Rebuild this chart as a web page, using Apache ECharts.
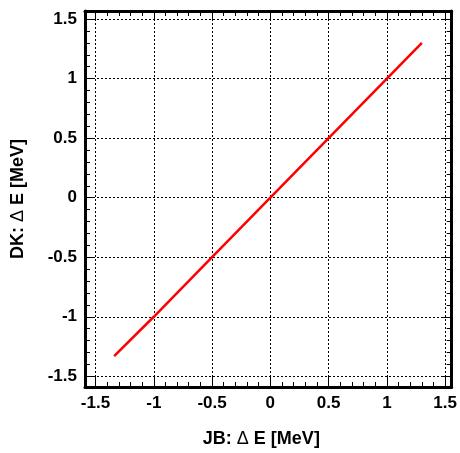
<!DOCTYPE html>
<html>
<head>
<meta charset="utf-8">
<script src="https://cdn.jsdelivr.net/npm/echarts@6/dist/echarts.min.js"></script>
<style>
html,body{margin:0;padding:0;background:#fff;}
#main{width:460px;height:453px;}
</style>
</head>
<body>
<div id="main"></div>
<script>
// values
var xRange = [-1.59, 1.556];
var yRange = [-1.59, 1.568];
var majorTicks = [-1.5, -1, -0.5, 0, 0.5, 1, 1.5];
var lineX = [-1.34, -1, -0.5, 0, 0.5, 1, 1.3];
var lineY = [-1.33, -1, -0.5, 0, 0.5, 1, 1.3];

var lineData = [];
for (var i = 0; i < lineX.length; i++) {
    lineData.push([lineX[i], lineY[i]]);
}

var chart = echarts.init(document.getElementById('main'));
var fontFam = '"Liberation Sans", Arial, sans-serif';

function fmt(v) {
    return String(Math.round(v * 10) / 10);
}
function minorValues() {
    var arr = [];
    for (var k = -16; k <= 16; k++) arr.push(k / 10);
    return arr;
}

// small ticks every 0.1 + the frame line
function minorAxis(pos, range) {
    return {
        type: 'value', position: pos, min: range[0], max: range[1],
        axisLine: {show: true, onZero: false, lineStyle: {color: '#000', width: 3}},
        axisTick: {show: true, inside: true, length: 5, lineStyle: {color: '#000', width: 1},
            customValues: minorValues()},
        axisLabel: {show: false},
        splitLine: {show: false}
    };
}
// big ticks every 0.5, labels, dotted grid, title
function majorAxis(pos, range, labels, name, nameGap, nameRotate, namePad) {
    return {
        type: 'value', position: pos, min: range[0], max: range[1],
        name: name, nameLocation: 'middle', nameGap: nameGap, nameRotate: nameRotate,
        nameTextStyle: {color: '#000', fontSize: 18, fontWeight: 'bold', fontFamily: fontFam,
            padding: namePad,
            rich: {d: {fontWeight: 'normal', fontSize: 18, fontFamily: fontFam, color: '#000'}}},
        axisLine: {show: false, onZero: false},
        axisTick: {show: true, inside: true, length: 10, lineStyle: {color: '#000', width: 1},
            customValues: majorTicks},
        axisLabel: {show: labels, customValues: majorTicks, formatter: fmt, color: '#000',
            fontSize: 17, fontWeight: 'bold', fontFamily: fontFam, margin: 8},
        splitLine: {show: labels, lineStyle: {color: '#000', width: 1, type: [2, 2]}}
    };
}

var option = {
    backgroundColor: '#fff',
    animation: false,
    grid: {left: 85, right: 6.5, top: 11, bottom: 66, containLabel: false},
    xAxis: [
        minorAxis('bottom', xRange),
        majorAxis('bottom', xRange, true, 'JB: {d|Δ} E [MeV]', 43, 0, [0, 14, 0, 0]),
        minorAxis('top', xRange),
        majorAxis('top', xRange, false, '', 0, 0, 0)
    ],
    yAxis: [
        minorAxis('left', yRange),
        majorAxis('left', yRange, true, 'DK: {d|Δ} E [MeV]', 58, 90, 0),
        minorAxis('right', yRange),
        majorAxis('right', yRange, false, '', 0, 0, 0)
    ],
    series: [{
        type: 'line',
        xAxisIndex: 0,
        yAxisIndex: 0,
        data: lineData,
        symbol: 'none',
        lineStyle: {color: '#ff0000', width: 2.5},
        z: 5
    }]
};
chart.setOption(option);
</script>
</body>
</html>
